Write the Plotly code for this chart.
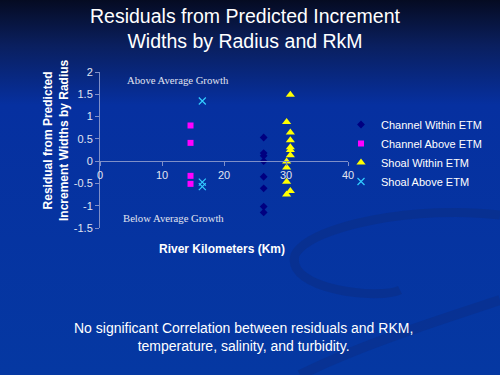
import base64
import plotly.graph_objects as go

# ---- data ----
ch_within_x = [26.4, 26.4, 26.4, 26.4, 26.4, 26.4, 26.4, 26.4]
ch_within_y = [0.53, 0.18, 0.12, 0.0, -0.35, -0.61, -1.02, -1.15]
ch_above_x = [14.6, 14.6, 14.6, 14.6]
ch_above_y = [0.80, 0.41, -0.33, -0.51]
sh_within_x = [30.7, 30.1, 30.7, 30.7, 30.7, 30.7, 30.7, 30.1, 30.1, 30.1, 30.7, 30.1]
sh_within_y = [1.49, 0.88, 0.64, 0.47, 0.31, 0.25, 0.13, -0.01, -0.14, -0.46, -0.67, -0.75]
sh_above_x = [16.5, 16.5, 16.5]
sh_above_y = [1.35, -0.47, -0.57]
x_ticks = [0, 10, 20, 30, 40]
y_ticks = [2, 1.5, 1, 0.5, 0, -0.5, -1, -1.5]

W, H = 500, 375
L, R, T, B = 100, 152, 72, 147
PW, PH = W - L - R, H - T - B

svg = f'''<svg xmlns="http://www.w3.org/2000/svg" width="{W}" height="{H}" viewBox="0 0 {W} {H}">
<defs><linearGradient id="g" x1="0" y1="0" x2="0" y2="1">
<stop offset="0" stop-color="#050b22"/>
<stop offset="0.12" stop-color="#0a1f5e"/>
<stop offset="0.28" stop-color="#0630a0"/>
<stop offset="1" stop-color="#0538a2"/>
</linearGradient></defs>
<rect width="{W}" height="{H}" fill="url(#g)"/>
<path d="M500,215 C420,205 310,225 295,255 C285,290 380,300 400,290" fill="none" stroke="#0a2f8a" stroke-width="9" opacity="0.7"/>
<path d="M500,300 C440,320 360,345 300,375" fill="none" stroke="#0a2f8a" stroke-width="10" opacity="0.6"/>
</svg>'''
src = "data:image/svg+xml;base64," + base64.b64encode(svg.encode()).decode()

fig = go.Figure()
fig.add_trace(go.Scatter(x=ch_within_x, y=ch_within_y, mode="markers", name="Channel Within ETM",
                         marker=dict(symbol="diamond", color="#000080", size=6)))
fig.add_trace(go.Scatter(x=ch_above_x, y=ch_above_y, mode="markers", name="Channel Above ETM",
                         marker=dict(symbol="square", color="#ff00ff", size=6)))
fig.add_trace(go.Scatter(x=sh_within_x, y=sh_within_y, mode="markers", name="Shoal Within ETM",
                         marker=dict(symbol="triangle-up", color="#ffff00", size=8)))
fig.add_trace(go.Scatter(x=sh_above_x, y=sh_above_y, mode="markers", name="Shoal Above ETM",
                         marker=dict(symbol="x-thin", color="#33ccff", size=7,
                                     line=dict(color="#33ccff", width=1.2))))

axcol = "#7f8fc8"
tickfont = dict(family="Liberation Sans, Arial", size=11, color="#e0e4f0")
fig.update_layout(
    width=W, height=H,
    margin=dict(l=L, r=R, t=T, b=B, autoexpand=False),
    paper_bgcolor="#0535a0", plot_bgcolor="rgba(0,0,0,0)",
    showlegend=True,
    legend=dict(x=(341 - L) / PW, y=1 - (110 - T) / PH, xanchor="left", yanchor="top",
                font=dict(family="Liberation Sans, Arial", size=11, color="#ffffff"),
                bgcolor="rgba(0,0,0,0)", itemwidth=30, tracegroupgap=0),
    xaxis=dict(range=[0, 40], tickvals=x_ticks, ticktext=[str(v) for v in x_ticks],
               anchor="free", position=1.5 / 3.5, showline=True, linecolor=axcol, linewidth=1,
               ticks="outside", ticklen=4, tickcolor=axcol, showgrid=False, zeroline=False,
               tickfont=tickfont, automargin=False),
    yaxis=dict(range=[-1.5, 2], tickvals=y_ticks, ticktext=[str(v) for v in y_ticks],
               showline=True, linecolor=axcol, linewidth=1, ticks="outside", ticklen=4,
               tickcolor=axcol, showgrid=False, zeroline=False, tickfont=tickfont,
               automargin=False),
    images=[dict(source=src, xref="paper", yref="paper", x=-L / PW, y=1 + T / PH,
                 sizex=W / PW, sizey=H / PH, sizing="stretch", layer="below",
                 xanchor="left", yanchor="top")],
)

def px_ann(text, x, y, size, color="#ffffff", family="Liberation Sans, Arial", angle=0, bold=False):
    if bold:
        text = "<b>" + text.replace("<br>", "</b><br><b>") + "</b>"
    fig.add_annotation(text=text, xref="paper", yref="paper",
                       x=(x - L) / PW, y=1 - (y - T) / PH, showarrow=False,
                       textangle=angle, font=dict(size=size, color=color, family=family),
                       xanchor="center", yanchor="middle")

px_ann("Residuals from Predicted Increment<br>Widths by Radius and RkM", 245, 28, 19.5)
px_ann("Residual from Predicted<br>Increment Widths by Radius", 56, 140, 12, angle=-90, bold=True)
px_ann("River Kilometers (Km)", 222, 249, 12, bold=True)
px_ann("Above Average Growth", 178, 80, 10.7, color="#e0e4f0", family="Liberation Serif, serif")
px_ann("Below Average Growth", 173, 218, 10.7, color="#e0e4f0", family="Liberation Serif, serif")
px_ann("No significant Correlation between residuals and RKM,<br>temperature, salinity, and turbidity.",
       243, 337, 14)

fig.write_html("out.html", config={"displayModeBar": False},
               post_script="document.body.style.margin='0px';document.body.style.overflow='hidden';")
